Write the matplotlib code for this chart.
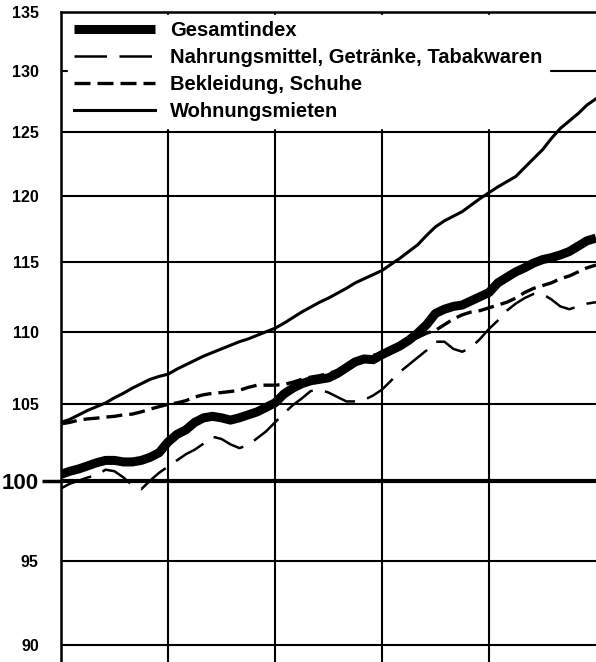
import numpy as np
import matplotlib
matplotlib.use('Agg')
import matplotlib.pyplot as plt
from matplotlib.ticker import FixedLocator, FixedFormatter, NullLocator

plt.rcParams['font.family'] = ['Liberation Sans', 'DejaVu Sans']

# monthly index values, 5 years (61 points)
gesamt = [100.4, 100.6, 100.75, 100.95, 101.15, 101.3, 101.3, 101.2, 101.2, 101.3,
          101.5, 101.8, 102.5, 103.0, 103.3, 103.8, 104.1, 104.2, 104.1, 103.95,
          104.1, 104.3, 104.5, 104.8, 105.1, 105.7, 106.1, 106.4, 106.6, 106.7,
          106.8, 107.1, 107.5, 107.9, 108.1, 108.05, 108.4, 108.7, 109.0, 109.4,
          109.9, 110.5, 111.3, 111.6, 111.8, 111.9, 112.2, 112.5, 112.8, 113.5,
          113.9, 114.3, 114.6, 114.95, 115.2, 115.35, 115.55, 115.8, 116.2, 116.6,
          116.8]
nahrung = [99.5, 99.8, 100.0, 100.2, 100.35, 100.7, 100.6, 100.2, 99.7, 99.45,
           100.0, 100.5, 100.9, 101.3, 101.7, 102.0, 102.4, 102.85, 102.7, 102.35,
           102.1, 102.3, 102.75, 103.2, 103.8, 104.4, 104.95, 105.4, 105.9, 106.0,
           105.8, 105.5, 105.2, 105.2, 105.3, 105.6, 106.0, 106.6, 107.2, 107.7,
           108.2, 108.7, 109.3, 109.3, 108.8, 108.6, 108.9, 109.5, 110.2, 110.8,
           111.5, 112.0, 112.4, 112.7, 112.7, 112.3, 111.8, 111.6, 111.8, 112.0,
           112.1]
bekleidung = [103.7, 103.8, 103.95, 104.03, 104.08, 104.15, 104.2, 104.3, 104.35, 104.5,
              104.68, 104.85, 105.0, 105.1, 105.25, 105.5, 105.65, 105.75, 105.8, 105.87,
              105.95, 106.15, 106.3, 106.3, 106.3, 106.35, 106.5, 106.7, 106.85, 106.95,
              107.1, 107.3, 107.6, 107.9, 108.2, 108.35, 108.5, 108.7, 109.0, 109.3,
              109.6, 109.9, 110.1, 110.5, 110.9, 111.2, 111.4, 111.5, 111.7, 111.9,
              112.1, 112.4, 112.8, 113.1, 113.3, 113.5, 113.8, 114.0, 114.3, 114.6,
              114.8]
mieten = [103.8, 104.0, 104.3, 104.6, 104.85, 105.1, 105.45, 105.75, 106.1, 106.4,
          106.7, 106.9, 107.05, 107.4, 107.7, 108.0, 108.3, 108.55, 108.8, 109.05,
          109.3, 109.5, 109.75, 110.0, 110.25, 110.6, 111.0, 111.4, 111.75, 112.1,
          112.4, 112.75, 113.1, 113.5, 113.8, 114.1, 114.4, 114.85, 115.3, 115.8,
          116.3, 117.0, 117.65, 118.1, 118.45, 118.8, 119.3, 119.8, 120.25, 120.7,
          121.1, 121.5, 122.2, 122.9, 123.6, 124.5, 125.3, 125.9, 126.5, 127.2,
          127.7]
months = np.arange(len(gesamt))

labels = ['Gesamtindex', 'Nahrungsmittel, Getränke, Tabakwaren',
          'Bekleidung, Schuhe', 'Wohnungsmieten']
yticks = [90, 95, 100, 105, 110, 115, 120, 125, 130, 135]
xgrid = [0, 12, 24, 36, 48]

fig = plt.figure(figsize=(5.96, 6.62), dpi=100)
ax = fig.add_axes([61 / 596, 0, 1 - 61 / 596, 1 - 12 / 662])

ax.plot(months, gesamt, color='k', lw=6.5, solid_capstyle='butt', label=labels[0])
ax.plot(months, nahrung, color='k', lw=1.8, dashes=(13, 5), label=labels[1])
ax.plot(months, bekleidung, color='k', lw=2.4, dashes=(4.8, 2.1), label=labels[2])
ax.plot(months, mieten, color='k', lw=2.2, label=labels[3])

ax.set_yscale('log')
ax.set_ylim(89.03, 135)
ax.set_xlim(0, 60)
ax.yaxis.set_major_locator(FixedLocator(yticks))
ax.yaxis.set_major_formatter(FixedFormatter([str(t) for t in yticks]))
ax.yaxis.set_minor_locator(NullLocator())
ax.xaxis.set_major_locator(FixedLocator(xgrid))
ax.xaxis.set_minor_locator(NullLocator())

ax.tick_params(axis='y', length=0, pad=16, labelsize=11.5)
ax.tick_params(axis='x', length=0, labelbottom=False)
for lab in ax.get_yticklabels():
    lab.set_fontweight('bold')
ax.grid(True, color='k', lw=1.5)
ax.set_axisbelow(True)

for tick, val in zip(ax.yaxis.get_major_ticks(), yticks):
    if val == 100:
        tick.tick1line.set_markersize(14)
        tick.tick1line.set_markeredgewidth(2.5)
        tick.label1.set_fontsize(16)
        tick.gridline.set_linewidth(3)

for side in ['right', 'bottom']:
    ax.spines[side].set_visible(False)
ax.spines['left'].set_linewidth(1.8)
ax.spines['top'].set_linewidth(1.8)

leg = ax.legend(loc='upper left', bbox_to_anchor=(0.013, 0.996), borderaxespad=0,
                frameon=True, fancybox=False, framealpha=1, edgecolor='white',
                facecolor='white', handlelength=4.0, handletextpad=0.75,
                labelspacing=0.4, borderpad=0.32,
                prop={'weight': 'bold', 'size': 14.5})

fig.savefig('out.png', dpi=100)
